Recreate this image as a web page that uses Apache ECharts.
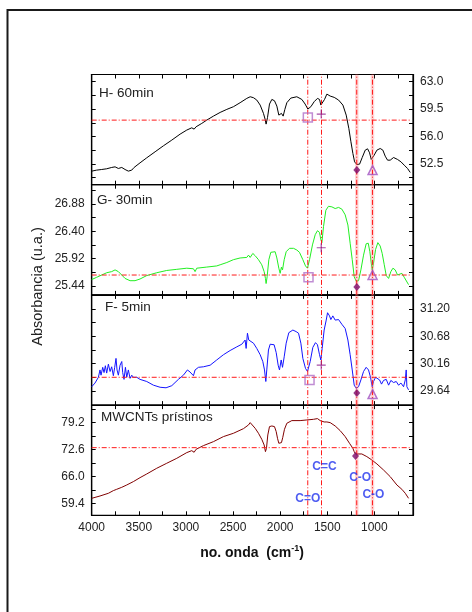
<!DOCTYPE html>
<html>
<head>
<meta charset="utf-8">
<script src="https://cdn.jsdelivr.net/npm/echarts@6/dist/echarts.min.js"></script>
<style>
html,body{margin:0;padding:0;background:#fff}
#chart{width:472px;height:612px}
</style>
</head>
<body>
<div id="chart"></div>
<script>
// FTIR spectra: [wavenumber (cm-1), absorbance (a.u.)]
const spectrumH = [[4000,51.59],[3947,51.72],[3894,51.80],[3841,51.89],[3788,52.06],[3752,52.14],[3717,51.93],[3681,52.06],[3646,51.80],[3611,51.59],[3575,51.72],[3550,52.06],[3487,52.65],[3416,53.29],[3327,54.06],[3239,54.82],[3150,55.55],[3062,56.31],[2991,56.83],[2938,57.12],[2913,56.95],[2892,57.25],[2832,57.68],[2779,58.10],[2708,58.61],[2637,59.08],[2566,59.47],[2496,59.81],[2425,60.32],[2354,60.87],[2318,61.08],[2283,60.96],[2248,60.66],[2212,60.02],[2177,58.96],[2159,58.19],[2149,57.59],[2134,58.44],[2113,60.15],[2088,60.74],[2060,60.57],[2035,59.89],[2014,58.74],[2000,58.53],[1986,58.96],[1968,58.61],[1950,59.47],[1929,60.32],[1887,60.91],[1823,61.08],[1770,60.74],[1735,60.15],[1706,59.51],[1674,59.81],[1639,60.45],[1604,60.87],[1582,60.74],[1568,60.02],[1550,59.89],[1529,60.74],[1504,61.42],[1469,61.17],[1426,61.00],[1380,60.66],[1334,60.02],[1299,58.74],[1271,57.04],[1249,55.34],[1228,53.85],[1210,52.78],[1186,52.44],[1157,52.48],[1129,53.33],[1097,54.27],[1072,54.44],[1051,53.93],[1033,53.08],[1019,52.87],[1002,53.63],[973,54.27],[938,54.48],[910,54.27],[885,53.50],[860,52.99],[832,52.99],[796,53.33],[754,53.08],[718,52.78],[683,52.35],[648,51.93],[619,51.42]];

const spectrumG = [[4000,25.55],[3947,25.59],[3894,25.63],[3841,25.67],[3788,25.69],[3752,25.72],[3717,25.69],[3681,25.63],[3646,25.57],[3593,25.53],[3540,25.53],[3487,25.56],[3416,25.62],[3310,25.67],[3204,25.71],[3097,25.73],[2991,25.75],[2920,25.74],[2903,25.69],[2885,25.75],[2779,25.77],[2673,25.79],[2637,25.81],[2566,25.85],[2496,25.90],[2425,25.93],[2354,25.94],[2336,25.98],[2318,25.94],[2290,26.01],[2265,25.97],[2230,25.90],[2195,25.81],[2170,25.69],[2156,25.57],[2149,25.48],[2138,25.60],[2120,25.90],[2099,26.03],[2078,26.06],[2053,26.04],[2035,25.93],[2014,25.75],[2000,25.66],[1986,25.77],[1975,25.72],[1957,25.90],[1936,26.04],[1901,26.10],[1858,26.10],[1823,26.07],[1795,26.03],[1759,25.90],[1731,25.79],[1710,25.75],[1688,25.90],[1657,26.16],[1628,26.34],[1604,26.41],[1582,26.38],[1568,26.25],[1557,26.20],[1540,26.48],[1515,26.77],[1487,26.84],[1451,26.83],[1416,26.80],[1380,26.82],[1345,26.79],[1310,26.69],[1281,26.51],[1257,26.19],[1235,25.90],[1214,25.60],[1193,25.52],[1168,25.53],[1143,25.72],[1115,25.98],[1087,26.18],[1065,26.19],[1048,26.04],[1033,25.84],[1023,25.72],[1009,25.84],[987,26.08],[963,26.20],[938,26.14],[917,26.01],[895,25.81],[874,25.62],[849,25.57],[825,25.69],[803,25.75],[779,25.72],[754,25.63],[733,25.60],[708,25.66],[683,25.59],[662,25.62],[637,25.46]];

const spectrumF = [[4000,29.72],[3965,29.79],[3929,29.90],[3912,30.04],[3901,29.94],[3883,30.09],[3869,29.99],[3855,30.12],[3841,29.98],[3823,30.15],[3805,30.01],[3788,30.10],[3770,29.93],[3756,30.09],[3742,30.26],[3731,30.04],[3717,29.94],[3699,30.13],[3681,30.20],[3671,29.99],[3657,29.86],[3642,30.09],[3628,29.90],[3611,30.04],[3593,29.88],[3575,29.94],[3558,29.90],[3522,29.90],[3487,29.86],[3416,29.82],[3345,29.75],[3274,29.71],[3211,29.70],[3150,29.74],[3080,29.86],[3027,29.94],[2984,30.04],[2956,30.00],[2920,29.93],[2903,30.04],[2867,30.09],[2814,30.10],[2743,30.13],[2673,30.23],[2602,30.33],[2531,30.41],[2460,30.48],[2407,30.53],[2372,30.61],[2361,30.45],[2347,30.74],[2333,30.61],[2312,30.64],[2283,30.55],[2248,30.45],[2212,30.33],[2184,30.20],[2166,30.04],[2152,29.82],[2142,30.04],[2124,30.42],[2106,30.53],[2088,30.56],[2064,30.52],[2042,30.37],[2021,30.13],[2007,30.04],[1989,30.23],[1975,30.09],[1957,30.29],[1936,30.55],[1908,30.75],[1865,30.80],[1830,30.77],[1805,30.74],[1780,30.55],[1759,30.26],[1731,30.07],[1710,30.01],[1681,30.20],[1653,30.47],[1625,30.56],[1604,30.52],[1582,30.33],[1568,30.23],[1554,30.45],[1533,30.80],[1511,30.99],[1497,31.13],[1476,31.07],[1462,31.00],[1441,31.07],[1416,30.99],[1380,31.00],[1345,30.91],[1310,30.83],[1281,30.61],[1257,30.33],[1235,30.04],[1214,29.75],[1193,29.69],[1168,29.72],[1143,29.85],[1115,30.01],[1087,30.09],[1062,30.04],[1041,29.90],[1023,29.72],[1009,29.82],[987,29.90],[966,29.93],[945,29.85],[924,29.77],[903,29.84],[874,29.86],[849,29.75],[825,29.84],[796,29.80],[768,29.82],[743,29.75],[718,29.79],[690,29.72],[672,29.85],[662,30.04],[655,29.72],[637,29.66]];

const spectrumM = [[4000,60.62],[3912,61.19],[3823,61.85],[3770,62.50],[3735,62.82],[3717,62.50],[3681,63.31],[3628,63.88],[3558,64.70],[3487,65.67],[3416,66.57],[3310,67.96],[3204,69.18],[3097,70.40],[2991,71.79],[2938,72.27],[2913,71.87],[2892,72.60],[2814,73.50],[2708,74.47],[2602,75.70],[2496,76.51],[2389,77.65],[2336,78.55],[2318,79.12],[2301,78.71],[2265,77.73],[2230,76.51],[2195,75.04],[2170,73.66],[2156,72.03],[2145,72.84],[2131,76.10],[2113,78.14],[2088,78.30],[2060,78.14],[2042,76.92],[2028,75.29],[2014,74.07],[2000,74.47],[1986,74.23],[1972,75.53],[1954,77.49],[1929,78.96],[1876,79.61],[1788,79.61],[1717,79.77],[1646,79.93],[1604,80.10],[1575,79.61],[1554,79.28],[1533,79.28],[1504,79.28],[1469,79.12],[1416,78.30],[1363,77.16],[1310,75.70],[1264,74.07],[1228,72.84],[1214,72.03],[1200,71.46],[1179,71.62],[1133,71.46],[1080,70.81],[1027,69.99],[973,69.02],[903,67.55],[832,65.92],[761,63.88],[708,62.82],[672,61.85],[637,60.62]];

// Band markers per panel: [C=O square, C=C plus, C-O diamond, C-O triangle]
const markersH = [[1706,58.44],[1564,58.87],[1186,51.72],[1019,51.72]];
const markersG = [[1699,25.59],[1564,26.11],[1186,25.42],[1019,25.63]];
const markersF = [[1688,29.85],[1564,30.13],[1186,29.60],[1019,29.58]];
const markersM = [null,null,[1200,70.97],null];

// Reference lines
const bandLines = [1707, 1561, 1187, 1020];
const wideBands = [1187, 1020];
const levelH = 58.10, levelG = 25.63, levelF = 29.90, levelM = 73.00;
const levelEnd = 620;

// Band assignments written in the bottom panel: [wavenumber, absorbance, text]
const bandLabels = [[1707,60.62,'C=O'],[1530,68.35,'C=C'],[1151,65.66,'C-O'],[1010,61.43,'C-O']];

// Axes
const xRange = [590, 4000];
const xTicks = [4000,3750,3500,3250,3000,2750,2500,2250,2000,1750,1500,1250,1000,750];
const xLabels = [4000,3500,3000,2500,2000,1500,1000];
const yTicksH = [52.5,56.0,59.5,63.0], yMinorH = [50.75,54.25,57.75,61.25], yRangeH = [49.86,63.92];
const yTicksG = [25.44,25.92,26.40,26.88], yMinorG = [25.68,26.16,26.64,27.12], yRangeG = [25.28,27.22];
const yTicksF = [29.64,30.16,30.68,31.20], yMinorF = [29.90,30.42,30.94], yRangeF = [29.37,31.47];
const yTicksM = [59.4,66.0,72.6,79.2], yMinorM = [62.7,69.3,75.9,82.5], yRangeM = [56.47,83.40];

const panelNames = ['H- 60min','G- 30min','F- 5min','MWCNTs prístinos'];
const FONT = 'Liberation Sans, Arial, Helvetica, sans-serif';

const panels = [
  {data: spectrumH, color:'#000000', marks: markersH, level: levelH, ticks: yTicksH, minor: yMinorH, range: yRangeH, side:'right', dec:1, name: panelNames[0], nx: 99, ny: 93},
  {data: spectrumG, color:'#22ee22', marks: markersG, level: levelG, ticks: yTicksG, minor: yMinorG, range: yRangeG, side:'left', dec:2, name: panelNames[1], nx: 97, ny: 200},
  {data: spectrumF, color:'#1414ff', marks: markersF, level: levelF, ticks: yTicksF, minor: yMinorF, range: yRangeF, side:'right', dec:2, name: panelNames[2], nx: 105, ny: 307},
  {data: spectrumM, color:'#800000', marks: markersM, level: levelM, ticks: yTicksM, minor: yMinorM, range: yRangeM, side:'left', dec:1, name: panelNames[3], nx: 101, ny: 417}
];

const gridTop = [74.5, 184.7, 294.9, 405.1];
const gridH = 110.2;
const gridLeft = 91.7, gridRight = 59;

const markerStyles = [
  {symbol:'rect', symbolSize:9, itemStyle:{color:'rgba(0,0,0,0)', borderColor:'#b070c8', borderWidth:1.5}},
  {symbol:'path://M0,5L10,5M5,0L5,10', symbolSize:9, itemStyle:{color:'rgba(0,0,0,0)', borderColor:'#902090', borderWidth:1.2}},
  {symbol:'diamond', symbolSize:[7,8], itemStyle:{color:'#7a0a6a', borderWidth:0}},
  {symbol:'triangle', symbolSize:9, itemStyle:{color:'rgba(0,0,0,0)', borderColor:'#a050c0', borderWidth:1.5}}
];

const dashDot = [5,2,1,2];

const grids = [], xAxes = [], yAxes = [], series = [];
const axisLineStyle = {color:'#000', width:1.2};

panels.forEach((p, i) => {
  grids.push({left: gridLeft, right: gridRight, top: gridTop[i], height: gridH, show: true, borderColor: '#000', borderWidth: 1.2, containLabel: false});
  const last = i === panels.length - 1;
  xAxes.push({
    type:'value', gridIndex:i, min:xRange[0], max:xRange[1], inverse:true, position:'bottom',
    axisLine:{show:true, lineStyle:axisLineStyle},
    axisTick:{show:true, inside:true, length:4, customValues:xTicks, lineStyle:{color:'#000', width:1}},
    axisLabel:{show:last, customValues:xLabels, margin:6, fontSize:12, color:'#222', fontFamily:FONT,
      formatter: v => String(Math.round(v))},
    splitLine:{show:false}
  });
  yAxes.push({
    type:'value', gridIndex:i, min:p.range[0], max:p.range[1], position:p.side,
    axisLine:{show:true, lineStyle:axisLineStyle},
    axisTick:{show:true, inside:true, length:4, customValues:p.ticks.concat(p.minor), lineStyle:{color:'#000', width:1}},
    axisLabel:{show:true, customValues:p.ticks, margin:7, fontSize:12, color:'#222', fontFamily:FONT,
      formatter: v => Number(v).toFixed(p.dec)},
    splitLine:{show:false}
  });
});
// mirrored axes (top and opposite side) carrying only inside ticks
panels.forEach((p, i) => {
  xAxes.push({
    type:'value', gridIndex:i, min:xRange[0], max:xRange[1], inverse:true, position:'top',
    axisLine:{show:true, lineStyle:axisLineStyle},
    axisTick:{show:true, inside:true, length:4, customValues:xTicks, lineStyle:{color:'#000', width:1}},
    axisLabel:{show:false}, splitLine:{show:false}
  });
  yAxes.push({
    type:'value', gridIndex:i, min:p.range[0], max:p.range[1], position: p.side === 'left' ? 'right' : 'left',
    axisLine:{show:true, lineStyle:axisLineStyle},
    axisTick:{show:true, inside:true, length:4, customValues:p.ticks.concat(p.minor), lineStyle:{color:'#000', width:1}},
    axisLabel:{show:false}, splitLine:{show:false}
  });
});

// straight guide segment drawn as a two-point line series
function guide(i, pts, style, z) {
  return {type:'line', xAxisIndex:i, yAxisIndex:i, data:pts, showSymbol:false, symbol:'none',
    lineStyle:style, itemStyle:{color:style.color}, silent:true, animation:false, z:z,
    emphasis:{disabled:true}};
}

panels.forEach((p, i) => {
  series.push({
    type:'line', xAxisIndex:i, yAxisIndex:i, data:p.data, showSymbol:false, symbol:'none',
    lineStyle:{color:p.color, width:1}, itemStyle:{color:p.color}, animation:false, z:2
  });
  wideBands.forEach(wn => {
    series.push(guide(i, [[wn, p.range[0]], [wn, p.range[1]]], {color:'rgba(255,120,120,0.32)', width:3.5, type:'solid'}, 3));
  });
  bandLines.forEach(wn => {
    series.push(guide(i, [[wn, p.range[0]], [wn, p.range[1]]], {color:'#ff1a1a', width:1, type:dashDot}, 4));
  });
  series.push(guide(i, [[xRange[1], p.level], [levelEnd, p.level]], {color:'#ff1a1a', width:1, type:dashDot}, 4));

  const pts = [];
  p.marks.forEach((m, k) => {
    if (!m) return;
    pts.push(Object.assign({value: m}, markerStyles[k]));
  });
  series.push({type:'scatter', xAxisIndex:i, yAxisIndex:i, data:pts, animation:false, z:5});
});

// band assignment labels
series.push({
  type:'scatter', xAxisIndex:3, yAxisIndex:3, symbolSize:1, animation:false, z:6,
  itemStyle:{color:'rgba(0,0,0,0)'},
  data: bandLabels.map(b => ({value:[b[0], b[1]], name:b[2]})),
  label:{show:true, position:'inside', formatter: d => d.name, color:'#2233ee', fontWeight:'bold', fontSize:12, fontFamily:FONT}
});

const graphics = [
  {type:'rect', shape:{x:7.5, y:10, width:520, height:700}, style:{fill:'none', stroke:'#1a1a1a', lineWidth:2}, silent:true},
  {type:'text', x:38, y:286.5, rotation:Math.PI/2, style:{text:'Absorbancia (u.a.)', fontSize:14.5, fontFamily:FONT, fill:'#222', textAlign:'center', textVerticalAlign:'middle'}},
  {type:'text', x:252, y:553, style:{
    text:'{a|no. onda  (cm}{s|-1}{a|)}', textAlign:'center', textVerticalAlign:'middle',
    rich:{a:{fontSize:14, fontWeight:'bold', fontFamily:FONT, fill:'#111'}, s:{fontSize:9, fontWeight:'bold', fontFamily:FONT, fill:'#111', verticalAlign:'top', padding:[0,0,8,0]}}
  }}
];
panels.forEach(p => {
  graphics.push({type:'text', x:p.nx, y:p.ny, style:{text:p.name, fontSize:13.5, fontFamily:FONT, fill:'#222', textVerticalAlign:'middle'}});
});

const chart = echarts.init(document.getElementById('chart'), null, {renderer:'canvas'});
chart.setOption({
  animation:false,
  backgroundColor:'#fff',
  grid: grids, xAxis: xAxes, yAxis: yAxes, series: series, graphic: graphics
});
</script>
</body>
</html>
